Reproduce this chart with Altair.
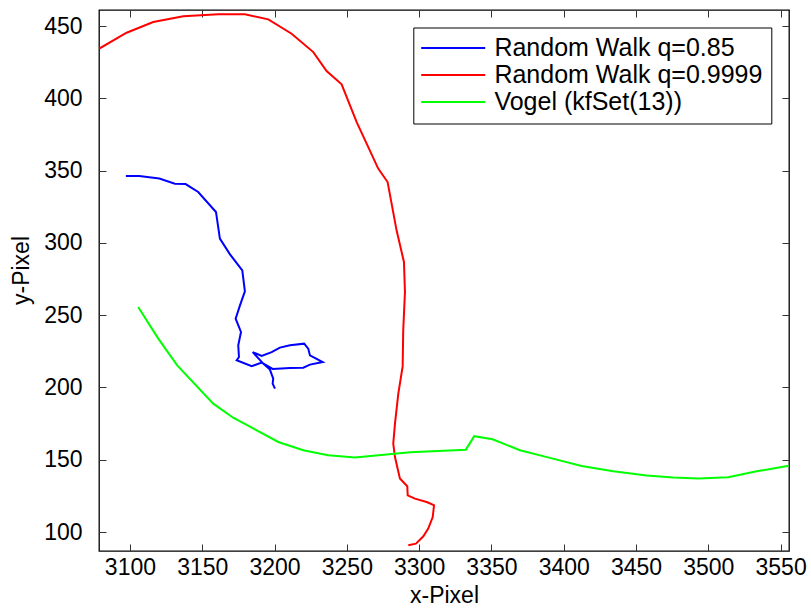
import altair as alt
import pandas as pd

# ---- data ----
blue_x = [3097.2, 3106.4, 3120.3, 3131.1, 3138.5, 3147.2, 3159.5, 3162.2, 3169.2, 3177.7,
          3179.5, 3176.1, 3173.1, 3176.8, 3174.9, 3175.4, 3173.8, 3184.2, 3191.1, 3198.7,
          3210.7, 3219.9, 3224.5, 3233.3, 3224.5, 3223.3, 3220.5, 3210.7, 3203.7, 3198.0,
          3191.1, 3184.9, 3192.2, 3196.8, 3199.1, 3198.7, 3200.3]
blue_y = [346.3, 346.3, 344.5, 341.0, 340.7, 335.2, 321.4, 303.0, 292.1, 281.0,
          266.5, 256.8, 247.6, 238.4, 229.2, 221.1, 218.8, 214.7, 217.2, 212.8,
          213.5, 213.7, 215.8, 217.6, 222.2, 226.9, 230.3, 229.2, 227.6, 224.5,
          221.8, 224.5, 216.5, 212.4, 206.1, 202.7, 199.2]

red_x = [3078.8, 3097.7, 3116.1, 3136.9, 3161.1, 3179.5, 3195.7, 3211.8, 3226.8, 3236.0,
         3246.4, 3256.8, 3263.7, 3271.7, 3278.2, 3284.4, 3289.5, 3290.2, 3289.0, 3288.6,
         3285.6, 3283.3, 3282.1, 3283.3, 3286.7, 3291.8, 3292.1, 3297.1, 3305.2, 3309.4,
         3310.3, 3309.4, 3306.3, 3302.9, 3297.8, 3292.5]
red_y = [434.4, 445.4, 452.8, 456.7, 458.1, 458.1, 454.6, 444.7, 432.0, 418.9,
         409.7, 383.6, 368.7, 351.4, 342.1, 308.7, 286.8, 266.0, 239.5, 214.6,
         195.8, 175.0, 161.2, 151.9, 137.0, 131.7, 125.4, 123.1, 120.8, 119.0,
         118.5, 110.4, 102.4, 97.1, 92.0, 90.9]

green_x = [3105.7, 3119.6, 3132.7, 3157.6, 3171.4, 3202.6, 3219.9, 3237.1, 3255.6, 3293.7,
           3332.3, 3338.1, 3350.8, 3369.7, 3390.5, 3412.4, 3434.3, 3457.3, 3475.8, 3493.0,
           3513.8, 3533.4, 3555.6]
green_y = [255.7, 233.8, 215.3, 188.8, 179.1, 162.3, 156.6, 153.1, 151.5, 155.2,
           157.0, 166.3, 164.2, 156.6, 151.3, 145.7, 142.0, 139.1, 137.7, 137.0,
           137.9, 142.0, 145.9]

series_names = ["Random Walk q=0.85", "Random Walk q=0.9999", "Vogel (kfSet(13))"]
series_colors = ["#0000FF", "#FF0000", "#00FF00"]

x_ticks = [3100, 3150, 3200, 3250, 3300, 3350, 3400, 3450, 3500, 3550]
y_ticks = [100, 150, 200, 250, 300, 350, 400, 450]

x_domain = [3078.6, 3555.8]
y_domain = [86.9, 461.1]

# ---- build table ----
rows = []
for name, xs_, ys_ in zip(series_names, [blue_x, red_x, green_x], [blue_y, red_y, green_y]):
    for i, (a, b) in enumerate(zip(xs_, ys_)):
        rows.append({"series": name, "idx": i, "x": a, "y": b})
df = pd.DataFrame(rows)
xt = pd.DataFrame({"v": x_ticks})
yt = pd.DataFrame({"v": y_ticks})

W, H = 690, 541
FONT = "Liberation Sans"
TICK_COL = "#333333"
TL = 7

xs = alt.Scale(domain=x_domain, nice=False, zero=False)
ys = alt.Scale(domain=y_domain, nice=False, zero=False)

lines = alt.Chart(df).mark_line(strokeWidth=2, clip=True).encode(
    x=alt.X("x:Q", scale=xs, title="x-Pixel",
            axis=alt.Axis(values=x_ticks, format="d", grid=False, ticks=False, domain=False,
                          labelFontSize=23, labelFont=FONT, labelColor="#000",
                          labelPadding=5, titleFont=FONT, titleFontSize=23,
                          titleFontWeight="normal", titleColor="#000", titlePadding=5)),
    y=alt.Y("y:Q", scale=ys, title="y-Pixel",
            axis=alt.Axis(values=y_ticks, format="d", grid=False, ticks=False, domain=False,
                          labelFontSize=23, labelFont=FONT, labelColor="#000",
                          labelPadding=17, titleFont=FONT, titleFontSize=23,
                          titleFontWeight="normal", titleColor="#000", titlePadding=10,
                          titleY=260)),
    color=alt.Color("series:N",
                    scale=alt.Scale(domain=series_names, range=series_colors),
                    legend=alt.Legend(title=None, orient="none", legendX=314.3, legendY=17.5,
                                      strokeColor="#000", fillColor="#fff", padding=8,
                                      cornerRadius=0, symbolType="M-8,0H8", symbolSize=64,
                                      symbolStrokeWidth=2, symbolOffset=19.4, labelOffset=28.7,
                                      rowPadding=1, labelFont=FONT, labelFontSize=25,
                                      labelColor="#000", labelLimit=400)),
    order=alt.Order("idx:Q"),
)


def carrier(table, channel, scale, orient, off, values):
    ax = alt.Axis(orient=orient, offset=off, values=values, labels=False, domain=False,
                  grid=False, tickSize=TL, tickColor=TICK_COL, tickWidth=1, title=None)
    if channel == "x":
        enc = {"x": alt.X("v:Q", scale=scale, axis=ax)}
    else:
        enc = {"y": alt.Y("v:Q", scale=scale, axis=ax)}
    return alt.Chart(table).mark_point(opacity=0).encode(**enc)


# inward tick marks on all four sides
bottom_t = carrier(xt, "x", xs, "top", -H, x_ticks)
top_t = carrier(xt, "x", xs, "bottom", -H, x_ticks)
left_t = carrier(yt, "y", ys, "right", -W, y_ticks)
right_t = carrier(yt, "y", ys, "left", -W, y_ticks)

chart = alt.layer(lines, bottom_t, top_t, left_t, right_t).resolve_axis(
    x="independent", y="independent"
).properties(
    width=W, height=H,
    padding={"left": 99, "top": 10, "right": 22, "bottom": 57},
    autosize=alt.AutoSizeParams(type="none"),
    background="white",
).configure_view(stroke="#000", strokeWidth=1.3)

chart.save("out.html", embed_options={"renderer": "svg", "actions": False})
